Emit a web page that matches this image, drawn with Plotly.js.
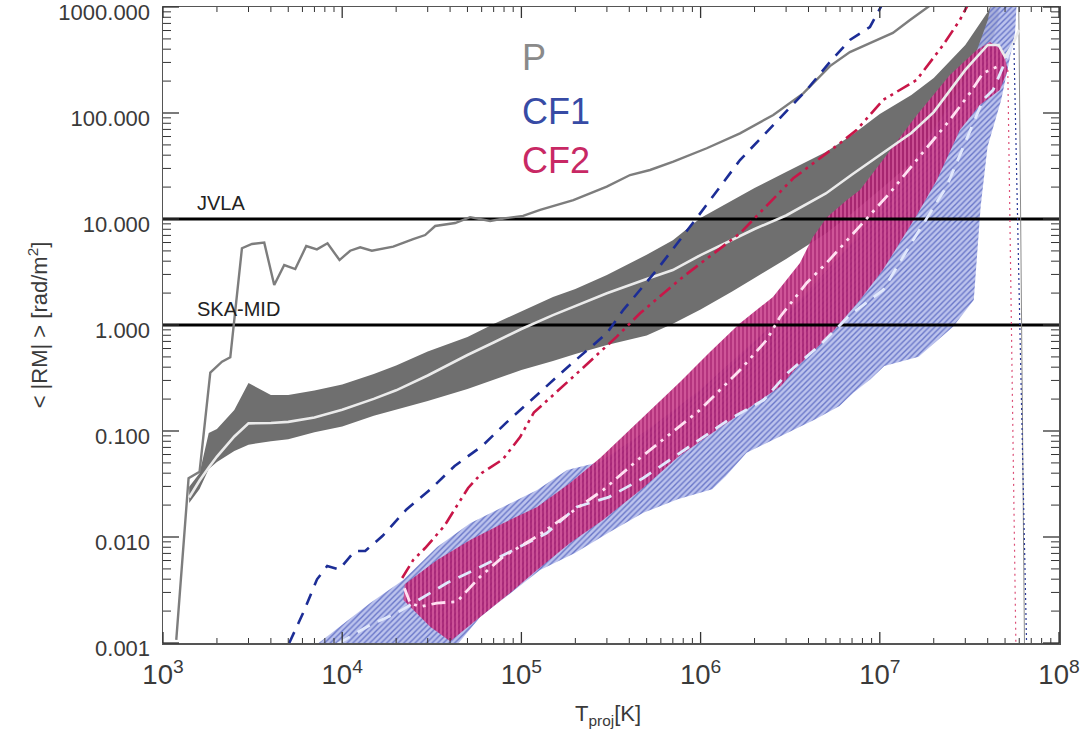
<!DOCTYPE html>
<html>
<head>
<meta charset="utf-8">
<script src="https://cdn.plot.ly/plotly-3.0.1.min.js"></script>
<style>
html,body{margin:0;padding:0;background:#ffffff;}
#chart{width:1080px;height:736px;}
</style>
</head>
<body>
<div id="chart"></div>
<script>
// ---------------- data ----------------
const bandX = [1400,1600,1800,2000,2500,3000,4000,5000,7000,1e4,1.5e4,2e4,3e4,5e4,7e4,1e5,1.5e5,2e5,3e5,5e5,7e5,1e6,1.5e6,2e6,3e6,5e6,7e6,1e7,1.5e7,2e7,3e7,4e7,4.6e7];
const pBandUpper = [0.0298,0.0399,0.0957,0.1045,0.158,0.284,0.219,0.219,0.241,0.275,0.345,0.415,0.562,0.771,1.02,1.355,1.84,2.19,2.96,4.60,6.31,10.2,15.1,19.6,27.8,42.9,62.0,97.9,148,214,438,897,1500];
const pBandLower = [0.0209,0.0284,0.0438,0.0510,0.0648,0.0743,0.0802,0.0838,0.0973,0.110,0.139,0.158,0.192,0.249,0.303,0.376,0.457,0.532,0.647,0.796,1.03,1.40,2.07,2.77,4.20,7.30,11.3,18.8,33.7,53.2,133,352,754];
const pMedianX = [1400,1600,1800,2000,2500,3000,4000,5000,7000,1e4,1.5e4,2e4,3e4,5e4,7e4,1e5,1.5e5,2e5,3e5,5e5,7e5,1e6,1.5e6,2e6,3e6,5e6,7e6,1e7,1.5e7,2e7,3e7,4e7,4.6e7,5e7,5.5e7,6e7];
const pMedianY = [0.0236,0.0341,0.0453,0.0574,0.0889,0.118,0.119,0.122,0.134,0.159,0.201,0.242,0.334,0.521,0.684,0.916,1.24,1.51,1.99,2.72,3.30,4.57,6.34,8.05,10.8,17.4,26.3,40.2,64.7,102,255,438,438,338,438,607];

const pLineX = [1186,1389,1600,1836,2134,2374,2758,3136,3673,4175,4748,5470,6300,7226,8280,9660,11080,12600,14640,19250,24890,29040,33030,42680,51750,66900,82170,102200,127200,195000,299500,404000,522200,704400,1.082e6,1.659e6,2.544e6,3.740e6,5.27e6,6.81e6,8.81e6,1.183e7,1.474e7,2.03e7];
const pLineY = [0.00107,0.0358,0.0413,0.355,0.451,0.496,5.30,5.81,5.98,2.38,3.68,3.37,5.56,5.17,5.90,4.10,5.02,5.41,5.02,5.48,6.47,7.06,8.59,9.16,10.4,9.58,10.2,10.7,12.2,15.1,20.2,26.0,29.0,34.7,46.5,64.3,95.7,153,277,376,457,569,753,1115];
const pTailX = [5.96e7,6.42e7];
const pTailY = [1100,0.0009];

const cf1LineX = [5063,6060,7237,8250,9623,11770,13440,16760,22840,31120,42410,60380,82390,117300,186900,299500,370700,569100,951000,1.659e6,2.773e6,3.906e6,5.27e6,6.81e6,8.81e6,1.027e7];
const cf1LineY = [0.00100,0.00193,0.00399,0.00532,0.00495,0.00738,0.00738,0.0102,0.0182,0.0282,0.0468,0.0722,0.120,0.206,0.420,0.835,1.39,3.30,10.2,36.0,89.1,165,303,488,648,1045];
const cf1UpperX = [7161,14330,21890,33870,51750,79060,122400,179800,274800,522200,992500,1.886e6,3.584e6,6.81e6,1.295e7,2.164e7,3.18e7,4.008e7,4.22e7];
const cf1UpperY = [0.00096,0.00238,0.00393,0.00805,0.0135,0.0192,0.0277,0.0429,0.0510,0.107,0.244,0.647,1.72,5.69,23.3,85.9,255,754,1164];
const cf1LowerX = [7539,40040,58870,86490,127200,199300,308000,479000,745300,1.161e6,1.386e6,1.806e6,2.809e6,4.374e6,5.96e6,7.117e6,8.87e6,1.06e7,1.648e7,2.564e7,3.345e7,3.654e7,3.992e7,4.76e7,5.684e7,5.818e7];
const cf1LowerY = [0.0008,0.0008,0.00176,0.00296,0.00489,0.00707,0.0110,0.0169,0.0227,0.0282,0.0376,0.0624,0.0897,0.129,0.172,0.230,0.308,0.410,0.502,0.964,1.72,13.1,48.1,133,569,1164];
const cf1MedX = [9439,14330,20190,38370,58870,89880,138600,203700,308000,479000,930800,1.447e6,2.252e6,3.073e6,4.634e6,6.81e6,1.045e7,1.536e7,2.359e7,3.049e7,3.773e7,4.29e7,5.546e7];
const cf1MedY = [0.00098,0.00148,0.00192,0.00368,0.00521,0.00754,0.0109,0.0192,0.0238,0.0360,0.0776,0.129,0.196,0.355,0.647,1.24,2.14,6.34,20.2,55.6,133,165,457];
const cf1TailX = [5.6e7,6.6e7];
const cf1TailY = [457,0.0009];

const cf2LineX = [21610,24890,29040,37150,42410,50420,60380,78840,98330,117300,199300,340500,459200,800800,1.659e6,3.289e6,5.99e6,7.42e6,1.045e7,1.605e7,2.257e7,2.797e7,3.099e7];
const cf2LineY = [0.00410,0.00607,0.00787,0.0127,0.0182,0.0290,0.0404,0.0541,0.0877,0.149,0.337,0.776,1.29,2.86,7.33,24.2,51.8,69.1,133,205,438,754,1045];
const cf2UpperX = [22340,33870,51750,79060,122400,186900,274800,459200,767600,1.128e6,1.659e6,2.534e6,3.584e6,4.236e6,5.07e6,6.553e6,7.745e6,1.04e7,1.611e7,2.46e7,3.48e7,4.113e7,4.86e7,5.18e7];
const cf2UpperY = [0.00358,0.00607,0.00937,0.0135,0.0192,0.0323,0.0556,0.127,0.290,0.556,1.04,1.84,3.85,6.76,10.4,15.1,18.8,36.0,95.7,228,393,468,393,255];
const cf2LowerX = [21980,24990,30970,40040,58870,86490,122400,186900,285500,477300,748200,1.161e6,1.806e6,2.809e6,3.493e6,5.27e6,7.745e6,1.04e7,1.611e7,2.082e7,2.797e7,3.616e7,4.675e7];
const cf2LowerY = [0.00255,0.00205,0.00142,0.00104,0.00176,0.00296,0.00489,0.00878,0.0145,0.0290,0.0569,0.0957,0.160,0.266,0.410,0.805,1.72,3.30,10.9,23.3,69.1,119,165];
const cf2MedX = [22260,23950,27230,33750,43630,58870,79060,121900,186900,285500,459200,992500,1.659e6,2.337e6,2.773e6,3.906e6,5.05e6,7.42e6,1.138e7,1.605e7,2.46e7,3.18e7,3.773e7,4.481e7];
const cf2MedY = [0.00328,0.00238,0.00220,0.00238,0.00245,0.00422,0.00652,0.0101,0.0168,0.0277,0.0556,0.158,0.376,0.722,1.19,2.49,3.85,7.87,17.6,36.0,85.9,154,238,272];
const cf2TailX = [5.18e7,5.75e7];
const cf2TailY = [255,0.0009];

const limitNames = ['JVLA','SKA-MID'];
const limitValues = [10, 1];
const legendNames = ['P','CF1','CF2'];
const xLimits = [1e3, 1e8];
const yLimits = [1e-3, 1e3];

// ---------------- drawing ----------------
const FONT = '"Liberation Sans", Arial, Helvetica, sans-serif';
const lg = v => Math.round(Math.log10(v) * 1e6) / 1e6;
const TICKC = '#333333';
const MARGIN = { l: 163, r: 21, t: 7, b: 93 };
const W = 1080, H = 736;
const plotW = W - MARGIN.l - MARGIN.r, plotH = H - MARGIN.t - MARGIN.b;

function closed(xu, yu, xl, yl) {
  return { x: xu.concat(xl.slice().reverse()), y: yu.concat(yl.slice().reverse()) };
}

const traces = [];
const gb = closed(bandX, pBandUpper, bandX, pBandLower);
traces.push({ x: gb.x, y: gb.y, mode: 'lines', fill: 'toself', fillcolor: '#6f6f6f',
  line: { width: 0, color: '#6f6f6f' }, hoverinfo: 'skip' });

const b1 = closed(cf1UpperX, cf1UpperY, cf1LowerX, cf1LowerY);
traces.push({ x: b1.x, y: b1.y, mode: 'lines', fill: 'toself',
  fillpattern: { shape: '/', bgcolor: 'rgba(178,186,234,0.88)', fgcolor: 'rgb(105,118,200)', size: 4, solidity: 0.35 },
  line: { width: 0, color: 'rgb(120,130,205)' }, hoverinfo: 'skip' });

const b2 = closed(cf2UpperX, cf2UpperY, cf2LowerX, cf2LowerY);
traces.push({ x: b2.x, y: b2.y, mode: 'lines', fill: 'toself',
  fillpattern: { shape: '|', bgcolor: 'rgba(172,30,112,0.9)', fgcolor: 'rgb(225,105,168)', size: 4, solidity: 0.3 },
  line: { width: 0, color: 'rgb(180,40,120)' }, hoverinfo: 'skip' });

limitValues.forEach(v => {
  traces.push({ x: xLimits, y: [v, v], mode: 'lines', line: { color: '#000000', width: 3.2 }, hoverinfo: 'skip' });
});

traces.push({ x: pLineX, y: pLineY, mode: 'lines', line: { color: 'rgb(125,125,125)', width: 2.4 }, hoverinfo: 'skip' });
traces.push({ x: pTailX, y: pTailY, mode: 'lines', line: { color: 'rgb(140,140,140)', width: 1 }, hoverinfo: 'skip' });
traces.push({ x: pMedianX, y: pMedianY, mode: 'lines', line: { color: 'rgb(235,235,235)', width: 2.6 }, hoverinfo: 'skip' });

traces.push({ x: cf1MedX, y: cf1MedY, mode: 'lines', line: { color: 'rgb(225,232,252)', width: 2.8, dash: '14px,9px' }, hoverinfo: 'skip' });
traces.push({ x: cf2MedX, y: cf2MedY, mode: 'lines', line: { color: 'rgb(255,225,242)', width: 2.8, dash: '14px,6px,3px,6px,3px,6px' }, hoverinfo: 'skip' });

traces.push({ x: cf1LineX, y: cf1LineY, mode: 'lines', line: { color: 'rgb(28,45,150)', width: 2.6, dash: '12px,9px' }, hoverinfo: 'skip' });
traces.push({ x: cf1TailX, y: cf1TailY, mode: 'lines', line: { color: 'rgb(40,55,150)', width: 1.2, dash: '2px,3px' }, hoverinfo: 'skip' });
traces.push({ x: cf2LineX, y: cf2LineY, mode: 'lines', line: { color: 'rgb(200,22,72)', width: 2.6, dash: '14px,5px,3px,5px,3px,5px' }, hoverinfo: 'skip' });
traces.push({ x: cf2TailX, y: cf2TailY, mode: 'lines', line: { color: 'rgb(220,80,120)', width: 1.2, dash: '2px,4px' }, hoverinfo: 'skip' });

// text
const annotations = [];
limitNames.forEach((n, i) => {
  annotations.push({ text: n, xref: 'paper', yref: 'y', x: 0.036, y: lg(limitValues[i]),
    xanchor: 'left', yanchor: 'bottom', yshift: 3, showarrow: false,
    font: { family: FONT, size: 20, color: '#222222' } });
});
const legendColors = ['rgb(138,138,138)', 'rgb(55,75,165)', 'rgb(200,40,100)'];
const legendY = [0.921, 0.836, 0.758];
legendNames.forEach((n, i) => {
  annotations.push({ text: n, xref: 'paper', yref: 'paper', x: 0.398, y: legendY[i],
    xanchor: 'left', yanchor: 'middle', showarrow: false,
    font: { family: FONT, size: 36, color: legendColors[i] } });
});
annotations.push({ text: 'T<sub>proj</sub>[K]', xref: 'paper', yref: 'paper', x: 0.497, y: -0.113,
  xanchor: 'center', yanchor: 'middle', showarrow: false,
  font: { family: FONT, size: 22, color: '#3a3a3a' } });

// inside log ticks (major + minor) on all four sides, as fractions of the plot frame
const shapes = [];
function logTicks(lim) {
  const out = [];
  const a = Math.log10(lim[0]), b = Math.log10(lim[1]);
  const k0 = Math.round(a), k1 = Math.round(b);
  for (let k = k0; k <= k1; k++) {
    for (let m = 1; m <= 9; m++) {
      if (k === k1 && m > 1) break;
      const f = (k + Math.log10(m) - a) / (b - a);
      out.push({ f: f, major: m === 1 });
    }
  }
  return out;
}
logTicks(xLimits).forEach(t => {
  const len = (t.major ? 11 : 5) / plotH;
  const ln = { color: TICKC, width: t.major ? 1.3 : 1 };
  shapes.push({ type: 'line', xref: 'paper', yref: 'paper', x0: t.f, x1: t.f, y0: 0, y1: len, line: ln });
  shapes.push({ type: 'line', xref: 'paper', yref: 'paper', x0: t.f, x1: t.f, y0: 1, y1: 1 - len, line: ln });
});
logTicks(yLimits).forEach(t => {
  const len = (t.major ? 16 : 8) / plotW;
  const ln = { color: TICKC, width: t.major ? 1.3 : 1 };
  shapes.push({ type: 'line', xref: 'paper', yref: 'paper', y0: t.f, y1: t.f, x0: 0, x1: len, line: ln });
  shapes.push({ type: 'line', xref: 'paper', yref: 'paper', y0: t.f, y1: t.f, x0: 1, x1: 1 - len, line: ln });
});

const layout = {
  width: W, height: H,
  margin: MARGIN,
  paper_bgcolor: '#ffffff', plot_bgcolor: '#ffffff',
  showlegend: false,
  xaxis: {
    type: 'log', range: [lg(xLimits[0]), lg(xLimits[1])], dtick: 1, exponentformat: 'power',
    ticks: 'outside', ticklen: 8, tickcolor: 'rgba(0,0,0,0)',
    showline: true, linecolor: '#555555', linewidth: 1.5, mirror: true,
    showgrid: false, zeroline: false,
    tickfont: { family: FONT, size: 22, color: '#3a3a3a' }
  },
  yaxis: {
    type: 'log', range: [lg(yLimits[0]), lg(yLimits[1])], dtick: 1, tickformat: '.3f',
    ticks: 'outside', ticklen: 7, tickcolor: 'rgba(0,0,0,0)', ticklabeloverflow: 'allow', ticklabelshift: 5,
    showline: true, linecolor: '#555555', linewidth: 1.5, mirror: true,
    showgrid: false, zeroline: false,
    tickfont: { family: FONT, size: 22, color: '#3a3a3a' },
    title: { text: '&lt; |RM| &gt; [rad/m<sup>2</sup>]', font: { family: FONT, size: 22, color: '#3a3a3a' }, standoff: 4 }
  },
  shapes: shapes,
  annotations: annotations
};

Plotly.newPlot('chart', traces, layout, { staticPlot: true, displayModeBar: false });
</script>
</body>
</html>
